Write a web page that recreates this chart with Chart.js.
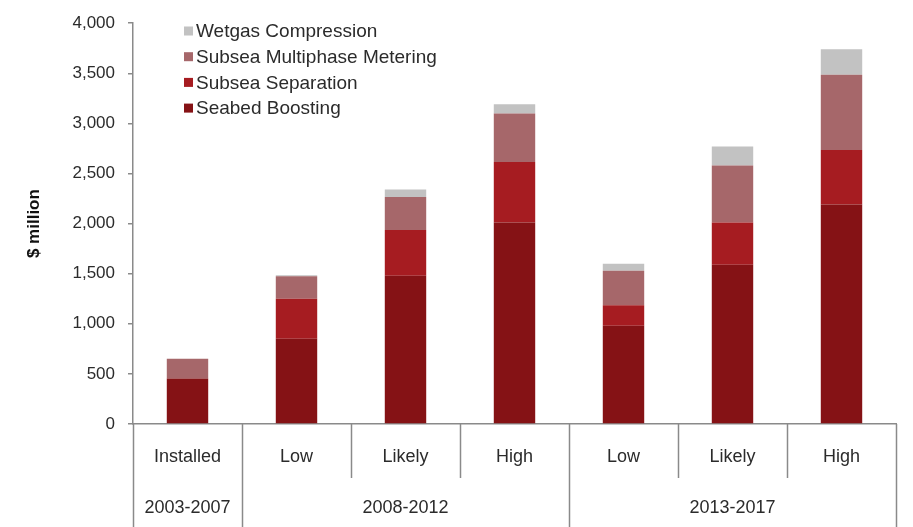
<!DOCTYPE html>
<html>
<head>
<meta charset="utf-8">
<script src="https://cdn.jsdelivr.net/npm/chart.js@4"></script>
<style>
  html, body { margin: 0; padding: 0; background: #fff; }
  #wrap { width: 913px; height: 527px; }
</style>
</head>
<body>
<div id="wrap"><canvas id="chart" width="913" height="527"></canvas></div>
<script>
Chart.defaults.font.family = "'Liberation Sans', Arial, sans-serif";
Chart.defaults.color = '#2b2b2b';

const categories = ['Installed', 'Low', 'Likely', 'High', 'Low', 'Likely', 'High'];
const groupLabels = ['2003-2007', '2008-2012', '2013-2017'];
const groupSpans = [1, 3, 3];

const seabedBoosting = [455, 850, 1480, 2010, 980, 1590, 2190];
const subseaSeparation = [0, 400, 455, 605, 205, 420, 545];
const multiphaseMetering = [195, 225, 330, 485, 345, 570, 750];
const wetgasCompression = [0, 10, 75, 90, 70, 190, 255];

const yTicks = [0, 500, 1000, 1500, 2000, 2500, 3000, 3500, 4000];

const AXIS_GREY = '#8a8a8a';

// legend drawn inside the plot, top-left, top series first
const cornerLegend = {
  id: 'cornerLegend',
  afterDraw(chart) {
    const ctx = chart.ctx;
    const sets = chart.data.datasets.slice().reverse();
    ctx.save();
    ctx.font = "19px 'Liberation Sans', Arial, sans-serif";
    ctx.textBaseline = 'middle';
    ctx.textAlign = 'left';
    sets.forEach((ds, i) => {
      const y = 31 + i * 25.7;
      ctx.fillStyle = ds.backgroundColor;
      ctx.fillRect(184, y - 4.5, 9, 9);
      ctx.fillStyle = '#2b2b2b';
      ctx.fillText(ds.label, 196, y + 1);
    });
    ctx.restore();
  }
};

// separator lines between categories and the period row underneath
const groupAxis = {
  id: 'groupAxis',
  afterDraw(chart) {
    const ctx = chart.ctx;
    const x = chart.scales.x;
    const top = chart.chartArea.bottom;
    const half = (x.getPixelForValue(1) - x.getPixelForValue(0)) / 2;
    const edges = [];
    for (let i = 0; i <= categories.length; i++) {
      edges.push(x.getPixelForValue(i) - half);
    }
    const groupEdges = [0];
    groupSpans.forEach(s => groupEdges.push(groupEdges[groupEdges.length - 1] + s));

    ctx.save();
    ctx.strokeStyle = AXIS_GREY;
    ctx.lineWidth = 1.5;
    edges.forEach((ex, i) => {
      const long = groupEdges.includes(i);
      ctx.beginPath();
      ctx.moveTo(Math.round(ex) + 0.5, top);
      ctx.lineTo(Math.round(ex) + 0.5, long ? chart.height : top + 54);
      ctx.stroke();
    });

    ctx.fillStyle = '#2b2b2b';
    ctx.font = "18px 'Liberation Sans', Arial, sans-serif";
    ctx.textAlign = 'center';
    ctx.textBaseline = 'middle';
    groupLabels.forEach((g, i) => {
      const cx = (edges[groupEdges[i]] + edges[groupEdges[i + 1]]) / 2;
      ctx.fillText(g, cx, 508);
    });
    ctx.restore();
  }
};

function series(label, data, color) {
  return {
    label: label,
    data: data,
    backgroundColor: color,
    borderWidth: 0,
    barPercentage: 0.38,
    categoryPercentage: 1.0
  };
}

new Chart(document.getElementById('chart').getContext('2d'), {
  type: 'bar',
  data: {
    labels: categories,
    datasets: [
      series('Seabed Boosting', seabedBoosting, '#851215'),
      series('Subsea Separation', subseaSeparation, '#a61c21'),
      series('Subsea Multiphase Metering', multiphaseMetering, '#a6676a'),
      series('Wetgas Compression', wetgasCompression, '#c2c2c2')
    ]
  },
  options: {
    responsive: false,
    animation: false,
    layout: { padding: { top: 18, right: 17, left: 0, bottom: 0 } },
    plugins: {
      legend: { display: false },
      tooltip: { enabled: false }
    },
    scales: {
      x: {
        stacked: true,
        grid: { display: false },
        border: { display: true, color: AXIS_GREY, width: 1.5 },
        ticks: {
          font: { size: 18 },
          color: '#2b2b2b',
          padding: 14,
          maxRotation: 0
        },
        afterFit(scale) { scale.height = 103; }
      },
      y: {
        stacked: true,
        min: 0,
        max: 4000,
        afterBuildTicks(scale) {
          scale.ticks = yTicks.map(v => ({ value: v }));
        },
        grid: {
          drawOnChartArea: false,
          drawTicks: true,
          tickLength: 5,
          color: AXIS_GREY,
          lineWidth: 1.5
        },
        border: { display: true, color: AXIS_GREY, width: 1.5 },
        ticks: {
          font: { size: 17 },
          color: '#2b2b2b',
          padding: 13,
          callback: v => v.toLocaleString('en-US')
        },
        title: {
          display: true,
          text: '$ million',
          font: { size: 17, weight: 'bold' },
          color: '#111',
          padding: { top: 24, bottom: 0 }
        },
        afterFit(scale) { scale.width = 133; }
      }
    }
  },
  plugins: [cornerLegend, groupAxis]
});
</script>
</body>
</html>
